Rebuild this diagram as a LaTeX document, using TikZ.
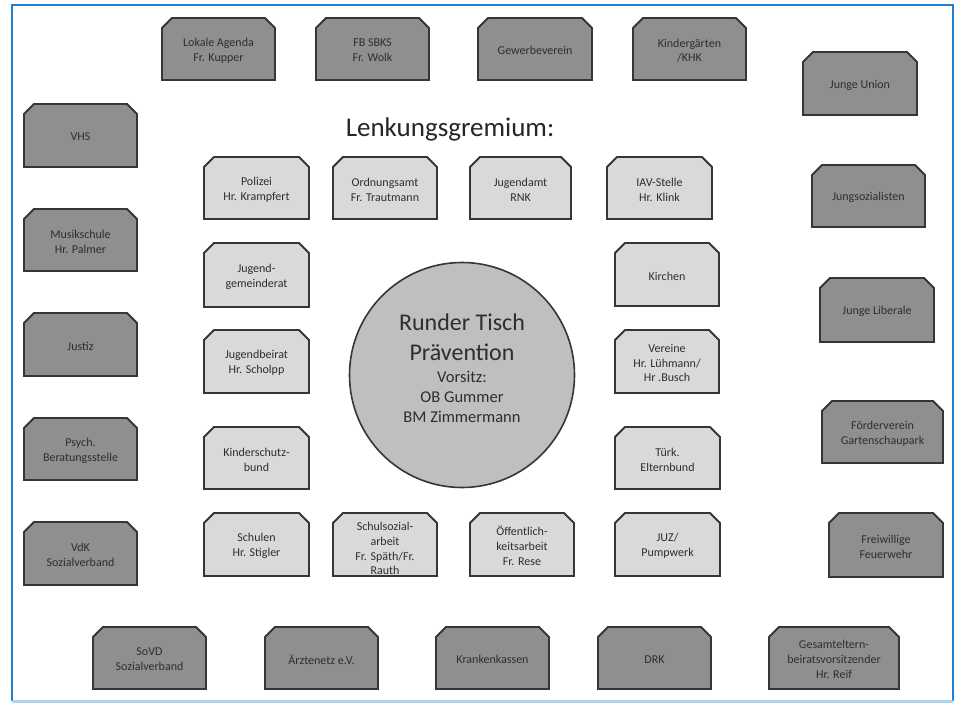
\documentclass[tikz,border=0pt]{standalone}
\usepackage{fontspec}
\setmainfont{Carlito}
\definecolor{frameblue}{HTML}{1F7FD4}
\definecolor{framelight}{HTML}{A9D3F3}
\definecolor{darkfill}{HTML}{8F8F8F}
\definecolor{lightfill}{HTML}{D9D9D9}
\definecolor{circfill}{HTML}{BFBFBF}
\definecolor{edge}{HTML}{363636}
\definecolor{txt}{HTML}{2E2E2E}
\def\chamf{10}
\tikzset{
  cbox/.style={draw=edge, line width=1.8pt, line join=miter},
  boxtext/.style={align=center, text=txt, font=\fontsize{12}{14.8}\selectfont, inner sep=0pt},
  title/.style={text=black!85, font=\fontsize{27}{30}\selectfont, inner sep=0pt},
}
\newcommand\cbx[7]{%
  \path[cbox,fill=#2] (#3,#6) -- (#3,#4+\chamf) -- (#3+\chamf,#4) -- (#5-\chamf,#4) -- (#5,#4+\chamf) -- (#5,#6) -- cycle;
  \node[boxtext] (#1) at ({(#3+#5)/2},{(#4+#6)/2+1.5}) {#7};}
\begin{document}
\begin{tikzpicture}[x=1pt,y=-1pt]
\useasboundingbox (0,0) rectangle (957,703);
\fill[white] (0,0) rectangle (957,703);
% frame
\draw[frameblue, line width=2.5pt] (12,701) -- (12,5) -- (953,5) -- (953,701);
\draw[framelight, line width=2.5pt] (12,701.5) -- (953,701.5);
% title
\node[title] (lenk) at (450,129) {Lenkungsgremium:};
% circle
\node[draw=edge, line width=1.6pt, fill=circfill, circle, minimum size=225pt, inner sep=0pt] (rt) at (462,375) {};
\node[text=txt, align=center, inner sep=0pt, font=\fontsize{24}{30}\selectfont] (rt1) at (462,337) {Runder Tisch\\Prävention};
\node[text=txt, align=center, inner sep=0pt, font=\fontsize{16.5}{20}\selectfont] (rt2) at (462,397) {Vorsitz:\\OB Gummer\\BM Zimmermann};
% top row
\cbx{lok}{darkfill}{162}{18}{275}{80}{Lokale Agenda\\Fr. Kupper}
\cbx{fb}{darkfill}{316}{18}{429}{80}{FB SBKS\\Fr. Wolk}
\cbx{gew}{darkfill}{478}{18}{592}{80}{Gewerbeverein}
\cbx{kig}{darkfill}{633}{18}{746}{80}{Kindergärten\\/KHK}
\cbx{ju}{darkfill}{803}{52}{917}{115}{Junge Union}
% left column
\cbx{vhs}{darkfill}{24}{104}{137}{167}{VHS}
\cbx{mus}{darkfill}{24}{209}{137}{271}{Musikschule\\Hr. Palmer}
\cbx{jus}{darkfill}{24}{313}{137}{376}{Justiz}
\cbx{psy}{darkfill}{24}{418}{137}{480}{Psych.\\Beratungsstelle}
\cbx{vdk}{darkfill}{24}{522}{137}{585}{VdK\\Sozialverband}
% right column
\cbx{jungsoz}{darkfill}{812}{165}{925}{227}{Jungsozialisten}
\cbx{jl}{darkfill}{820}{278}{934}{342}{Junge Liberale}
\cbx{foe}{darkfill}{822}{401}{943}{463}{Förderverein\\Gartenschaupark}
\cbx{ff}{darkfill}{829}{513}{943}{577}{Freiwillige\\Feuerwehr}
% bottom row
\cbx{sovd}{darkfill}{93}{627}{206}{689}{SoVD\\Sozialverband}
\cbx{aerz}{darkfill}{265}{627}{378}{689}{Ärztenetz e.V.}
\cbx{kk}{darkfill}{436}{627}{549}{689}{Krankenkassen}
\cbx{drk}{darkfill}{598}{627}{711}{689}{DRK}
\cbx{ges}{darkfill}{769}{627}{899}{689}{Gesamteltern-\\beiratsvorsitzender\\Hr. Reif}
% inner ring (light)
\cbx{pol}{lightfill}{204}{157}{309}{219}{Polizei\\Hr. Krampfert}
\cbx{ord}{lightfill}{333}{157}{437}{219}{Ordnungsamt\\Fr. Trautmann}
\cbx{jamt}{lightfill}{470}{157}{571}{219}{Jugendamt\\RNK}
\cbx{iav}{lightfill}{607}{157}{712}{219}{IAV-Stelle\\Hr. Klink}
\cbx{jgr}{lightfill}{204}{243}{309}{307}{Jugend-\\gemeinderat}
\cbx{jbr}{lightfill}{204}{330}{309}{393}{Jugendbeirat\\Hr. Scholpp}
\cbx{ksb}{lightfill}{204}{427}{309}{489}{Kinderschutz-\\bund}
\cbx{kir}{lightfill}{615}{243}{719}{306}{Kirchen}
\cbx{ver}{lightfill}{615}{330}{719}{393}{Vereine\\Hr. Lühmann/\\Hr .Busch}
\cbx{tuerk}{lightfill}{615}{427}{720}{489}{Türk.\\Elternbund}
\cbx{sch}{lightfill}{204}{513}{309}{576}{Schulen\\Hr. Stigler}
\path[cbox,fill=lightfill] (333,576) -- (333,523) -- (343,513) -- (427,513) -- (437,523) -- (437,576) -- cycle;
\node[boxtext] (ssa) at (385,548.5) {Schulsozial-\\arbeit\\Fr. Späth/Fr.\\Rauth};
\cbx{oeff}{lightfill}{470}{513}{574}{576}{Öffentlich-\\keitsarbeit\\Fr. Rese}
\cbx{juz}{lightfill}{615}{513}{720}{576}{JUZ/\\Pumpwerk}
\end{tikzpicture}
\end{document}
